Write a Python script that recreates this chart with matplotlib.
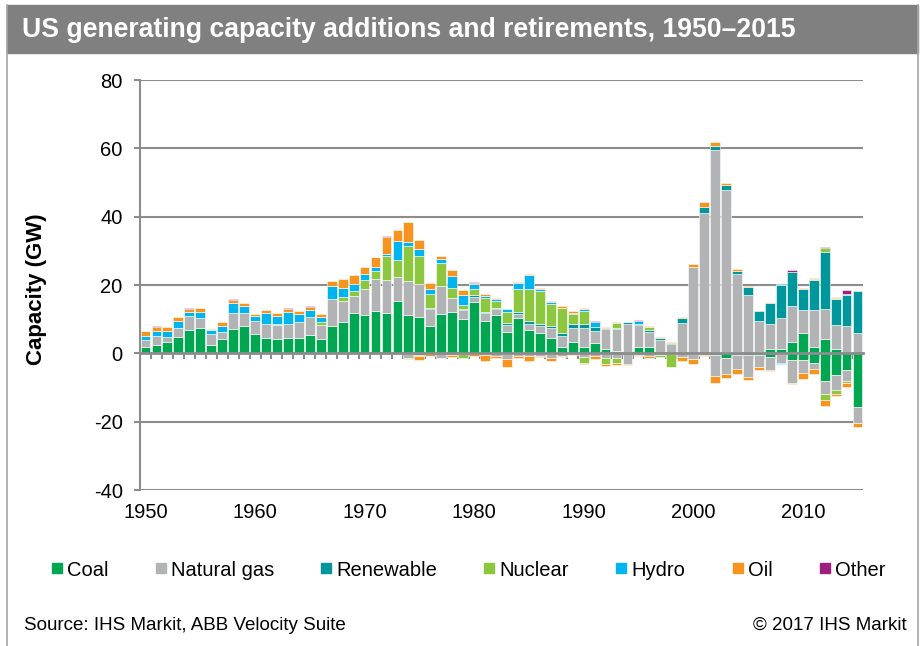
import matplotlib.pyplot as plt
from matplotlib.patches import Rectangle
from matplotlib.lines import Line2D
import numpy as np

plt.rcParams['font.family'] = ['Liberation Sans', 'DejaVu Sans']
plt.rcParams['axes.unicode_minus'] = False

years = np.arange(1950, 2016)
fuels = ["Coal", "Natural gas", "Renewable", "Nuclear", "Hydro", "Oil", "Other"]
colors = ["#00a651", "#b2b3b5", "#00979c", "#8dc63f", "#00b4ef", "#f7941d", "#9e1f80"]

# additions (GW), one value per year 1950-2015
coal_add = [2.0, 2.3, 3.2, 4.9, 6.7, 7.3, 2.3, 4.3, 7.1, 7.9,
            5.8, 4.4, 4.3, 4.4, 4.6, 5.4, 4.2, 8.1, 9.2, 11.7,
            11.2, 12.3, 11.7, 15.3, 11.1, 10.7, 8.1, 11.5, 12.1, 10.1,
            15.0, 9.6, 11.3, 6.2, 10.2, 6.7, 5.9, 4.5, 1.8, 3.4,
            1.9, 3.1, 1.2, 0.7, 0.3, 1.9, 1.9, 0.2, 0.0, 0.0,
            0.2, 0.0, 0.3, 0.3, 0.3, 0.1, 0.4, 1.4, 1.4, 3.3,
            6.0, 1.9, 4.3, 1.4, 0.0, 0.0]
gas_add = [1.8, 2.8, 1.6, 2.6, 4.1, 3.1, 3.3, 2.0, 4.7, 3.9,
           3.7, 4.2, 3.9, 4.3, 4.5, 5.1, 4.0, 7.8, 6.1, 5.1,
           7.7, 9.4, 9.8, 7.0, 10.1, 9.7, 5.0, 8.2, 4.2, 2.6,
           1.6, 2.3, 1.6, 2.0, 1.3, 1.9, 2.0, 2.9, 3.2, 4.1,
           5.6, 3.5, 5.8, 6.4, 8.4, 6.3, 4.3, 3.8, 2.6, 9.0,
           25.0, 41.0, 59.2, 47.4, 23.0, 17.0, 9.0, 7.3, 8.8, 10.5,
           6.8, 10.8, 8.8, 6.8, 7.9, 6.0]
renew_add = [0, 0, 0, 0, 0, 0, 0, 0, 0, 0,
             0, 0, 0, 0, 0, 0, 0, 0, 0, 0,
             0, 0, 0, 0, 0, 0, 0.3, 0, 0, 0.2,
             0.4, 0.3, 0.3, 0.7, 0.7, 1.0, 0.8, 0.5, 1.0, 1.2,
             1.2, 1.0, 0.4, 0.4, 0.4, 0.4, 0.5, 0.5, 0.5, 1.3,
             0.2, 1.7, 1.2, 1.7, 0.9, 2.4, 2.9, 5.9, 9.8, 10.1,
             5.9, 8.8, 16.6, 7.8, 9.1, 12.2]
nuclear_add = [0, 0, 0, 0, 0, 0, 0, 0, 0, 0.1,
               0, 0, 0.4, 0, 0, 0, 1.0, 0, 1.2, 1.5,
               2.7, 2.3, 7.0, 5.0, 10.1, 8.0, 4.0, 6.6, 2.9, 1.2,
               1.8, 4.0, 2.1, 3.2, 6.5, 9.1, 9.4, 6.5, 7.2, 2.9,
               3.7, 0, 0, 1.3, 0, 0, 1.0, 0, 0, 0,
               0, 0, 0, 0, 0, 0, 0, 0, 0, 0,
               0, 0.3, 1.0, 0.2, 0, 0]
hydro_add = [1.2, 1.3, 1.8, 1.9, 1.3, 1.7, 1.1, 1.7, 2.9, 2.0,
             1.4, 3.3, 2.4, 3.4, 2.4, 2.2, 1.5, 3.8, 2.7, 1.9,
             1.6, 1.4, 0.6, 5.6, 1.3, 2.1, 1.4, 1.3, 3.4, 3.1,
             1.5, 0.5, 0.6, 1.0, 2.0, 4.3, 0.7, 0.6, 0.2, 0.2,
             0.7, 1.5, 0, 0, 0.2, 1.0, 0, 0, 0, 0,
             0, 0, 0, 0, 0, 0, 0, 0, 0.2, 0,
             0, 0, 0, 0, 0.5, 0]
oil_add = [1.4, 1.3, 1.0, 1.3, 0.9, 1.1, 0.3, 1.2, 0.9, 0.7,
           0.7, 0.8, 0.7, 1.0, 0.8, 0.8, 0.9, 1.4, 2.6, 2.7,
           2.1, 2.7, 4.9, 3.1, 5.7, 2.8, 1.9, 0.9, 1.9, 1.2,
           0.4, 0.6, 0.4, 0, 0.2, 0.2, 0.2, 0.2, 0.6, 0.7,
           0.3, 0, 0.3, 0.3, 0, 0, 0.3, 0.2, 0.2, 0.4,
           0.8, 1.5, 1.3, 0.6, 0.5, 0.3, 0, 0.3, 0, 0,
           0.3, 0.3, 0, 0.2, 0, 0]
other_add = [0.1, 0.2, 0, 0, 0.2, 0, 0, 0, 0.2, 0,
             0, 0, 0, 0.3, 0, 0.3, 0, 0, 0, 0,
             0, 0.2, 0.2, 0, 0, 0, 0, 0, 0, 0,
             0.2, 0, 0, 0, 0, 0, 0, 0, 0, 0,
             0, 0.4, 0, 0, 0, 0.1, 0, 0, 0, 0,
             0, 0, 0, 0, 0, 0, 0, 0.1, 0, 0.4,
             0, 0, 0.3, 0, 1.0, 0]

# retirements (GW, negative)
coal_ret = [0] * 24 + [-0.3, -0.6, 0, 0, 0, 0,
            0, 0, 0, -0.2, 0, 0, 0, 0, 0, 0,
            0, 0, 0, 0, 0, 0, 0, 0, 0, 0,
            -0.2, 0, -0.6, -1.5, -0.6, -0.5, -0.5, -1.0, -0.3, -2.0,
            -2.0, -2.8, -8.2, -6.2, -4.8, -15.7]
gas_ret = [0] * 24 + [-1.0, -0.3, -0.3, -1.4, -0.6, -0.2,
           -0.2, -0.6, -0.9, -1.5, -0.8, -0.9, -0.7, -1.5, -0.9, -0.2,
           -1.1, -0.9, -1.5, -1.5, -3.0, -0.5, -0.8, -0.4, -0.3, -1.2,
           -1.5, -0.5, -6.0, -4.5, -4.1, -6.4, -3.6, -4.0, -2.5, -6.6,
           -3.9, -1.7, -3.6, -4.4, -3.3, -4.6]
renew_ret = [0] * 66
nuclear_ret = [0] * 24 + [-0.3, 0, 0, 0, 0, -1.2,
               0, 0, 0, 0, 0, 0, 0, 0, 0, 0,
               -1.6, 0, -1.6, -1.4, 0, 0, 0, -0.6, -3.6, 0,
               0, 0, 0, 0, 0, 0, 0, 0, 0, 0,
               0, 0, -2.0, -1.4, -0.6, 0]
hydro_ret = [0] * 58 + [-0.3] + [0] * 7
oil_ret = [0] * 24 + [0, -1.0, -0.4, 0, -0.6, 0,
           -0.6, -1.6, -0.6, -2.2, -0.6, -1.2, -0.5, -0.6, -0.2, -0.3,
           -0.4, -0.8, -0.5, -0.5, -0.3, -0.2, -0.6, 0, 0, -1.0,
           -1.3, -0.2, -2.2, -1.2, -1.3, -1.0, -0.8, -0.3, 0, -0.5,
           -1.5, -1.5, -1.5, -0.6, -1.2, -1.3]
other_ret = [0] * 66

additions = [coal_add, gas_add, renew_add, nuclear_add, hydro_add, oil_add, other_add]
retirements = [coal_ret, gas_ret, renew_ret, nuclear_ret, hydro_ret, oil_ret, other_ret]

W, H = 922, 646
fig = plt.figure(figsize=(W / 100, H / 100), dpi=100)
ax = fig.add_axes([140 / W, 1 - 490 / H, 723 / W, 410 / H])

grey = "#8c8c8c"
pos = np.zeros(len(years))
neg = np.zeros(len(years))
for c, add, ret in zip(colors, additions, retirements):
    add = np.array(add, dtype=float)
    ret = np.array(ret, dtype=float)
    m = add != 0
    ax.bar(years[m], add[m], 0.9, bottom=pos[m], color=c,
           edgecolor="white", linewidth=0.4, zorder=2)
    pos += add
    m = ret != 0
    ax.bar(years[m], ret[m], 0.9, bottom=neg[m], color=c,
           edgecolor="white", linewidth=0.4, zorder=2)
    neg += ret

ax.set_xlim(1949.5, 2015.5)
ax.set_ylim(-40, 80)
ax.set_yticks(range(-40, 81, 20))
ax.set_xticks(range(1950, 2011, 10))
ax.set_xticks(np.arange(1950.5, 2015, 1), minor=True)
ax.grid(axis="y", color=grey, linewidth=1.5, zorder=0)
ax.set_axisbelow(True)

for s in ["top", "right"]:
    ax.spines[s].set_visible(False)
ax.spines["left"].set_color(grey)
ax.spines["left"].set_linewidth(1.5)
ax.spines["bottom"].set_position(("data", 0))
ax.spines["bottom"].set_color(grey)
ax.spines["bottom"].set_linewidth(2)
ax.spines["bottom"].set_zorder(3)

ax.tick_params(axis="y", length=4.5, width=1.5, color=grey, pad=8, labelsize=14.5)
ax.tick_params(axis="x", which="major", length=0, pad=108, labelsize=14.5)
ax.tick_params(axis="x", which="minor", length=4, width=1.5, color=grey)

ax.set_ylabel("Capacity (GW)", fontsize=16, fontweight="bold")
ax.yaxis.set_label_coords(-0.128, 0.49)

# title band and frame
fig.add_artist(Rectangle((7 / W, 1 - 53 / H), 911 / W, 48 / H,
                         transform=fig.transFigure, color="#808080", zorder=0))
for xf in (7 / W, 918 / W):
    fig.add_artist(Line2D([xf, xf], [0, 1 - 5 / H], transform=fig.transFigure,
                          color="#a6a6a6", linewidth=1.2))
fig.text(22 / W, 1 - 30 / H, "US generating capacity additions and retirements, 1950\u20132015",
         color="white", fontsize=19.2, fontweight="bold", va="center")

handles = [Line2D([], [], marker="s", markersize=7, linestyle="none", color=c) for c in colors]
fig.legend(handles, fuels, loc="center", bbox_to_anchor=(468 / W, 1 - 570 / H), ncol=7,
           frameon=False, fontsize=14.5, handlelength=0.6, handletextpad=0.2,
           columnspacing=2.3, borderaxespad=0)

fig.text(24 / W, 1 - 625 / H, "Source: IHS Markit, ABB Velocity Suite", fontsize=13.5, va="center")
fig.text(907 / W, 1 - 625 / H, "\u00a9 2017 IHS Markit", fontsize=13.5, va="center", ha="right")

plt.savefig("out.png", dpi=100)
